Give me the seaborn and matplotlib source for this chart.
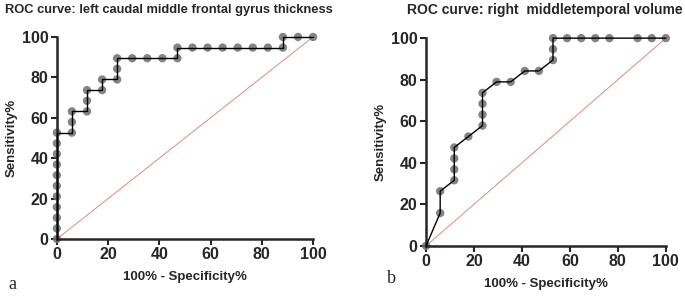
import numpy as np
import pandas as pd
import matplotlib.pyplot as plt
import seaborn as sns

# ROC data (percent)
left_fpr = [0, 0, 0, 0, 0, 0, 0, 0, 0, 0, 0,
            5.88, 5.88, 5.88, 11.76, 11.76, 11.76, 17.65, 17.65,
            23.53, 23.53, 23.53, 29.41, 35.29, 41.18, 47.06, 47.06,
            52.94, 58.82, 64.71, 70.59, 76.47, 82.35, 88.24, 88.24, 94.12, 100]
left_tpr = [0, 5.26, 10.53, 15.79, 21.05, 26.32, 31.58, 36.84, 42.11, 47.37, 52.63,
            52.63, 57.89, 63.16, 63.16, 68.42, 73.68, 73.68, 78.95,
            78.95, 84.21, 89.47, 89.47, 89.47, 89.47, 89.47, 94.74,
            94.74, 94.74, 94.74, 94.74, 94.74, 94.74, 94.74, 100, 100, 100]

right_fpr = [0, 5.88, 5.88, 11.76, 11.76, 11.76, 11.76, 17.65,
             23.53, 23.53, 23.53, 23.53, 29.41, 35.29, 41.18, 47.06,
             52.94, 52.94, 52.94, 58.82, 64.71, 70.59, 76.47, 88.24, 94.12, 100]
right_tpr = [0, 15.79, 26.32, 31.58, 36.84, 42.11, 47.37, 52.63,
             57.89, 63.16, 68.42, 73.68, 78.95, 78.95, 84.21, 84.21,
             89.47, 94.74, 100, 100, 100, 100, 100, 100, 100, 100]

titles = ["ROC curve: left caudal middle frontal gyrus thickness",
          "ROC curve: right  middletemporal volume"]
panel_labels = ["a", "b"]
ticks = [0, 20, 40, 60, 80, 100]

sns.set_style("ticks")
plt.rcParams['font.family'] = ['Liberation Sans', 'DejaVu Sans']

fig = plt.figure(figsize=(6.85, 2.98), dpi=100)
axes = [fig.add_axes([0.083, 0.198, 0.374, 0.678]),
        fig.add_axes([0.622, 0.175, 0.350, 0.697])]

data = [(left_fpr, left_tpr), (right_fpr, right_tpr)]
for ax, (fpr, tpr), title in zip(axes, data, titles):
    df = pd.DataFrame({'fpr': fpr, 'tpr': tpr})
    ax.plot([0, 100], [0, 100], color='#d9898a', lw=0.7, zorder=1)
    sns.scatterplot(data=df, x='fpr', y='tpr', ax=ax, s=36, color='#6e6e6e',
                    alpha=0.85, edgecolor='none', zorder=2, clip_on=False)
    sns.lineplot(data=df, x='fpr', y='tpr', ax=ax, sort=False, estimator=None,
                 color='black', lw=1.0, zorder=3, clip_on=False)
    ax.set_xlim(0, 100)
    ax.set_ylim(0, 100)
    ax.set_xticks(ticks)
    ax.set_yticks(ticks)
    for lab in ax.get_xticklabels() + ax.get_yticklabels():
        lab.set_fontweight('bold')
        lab.set_fontsize(11.5)
    ax.tick_params(width=1.5, length=4, pad=2)
    for s in ['left', 'bottom']:
        ax.spines[s].set_linewidth(1.8)
    sns.despine(ax=ax)
    ax.set_xlabel('100% - Specificity%', fontweight='bold', fontsize=9.5, labelpad=6)
    ax.set_ylabel('Sensitivity%', fontweight='bold', fontsize=9.5, labelpad=3)

fig.text(0.246, 0.965, titles[0], ha='center', va='center', fontweight='bold', fontsize=9.3)
fig.text(0.796, 0.965, titles[1], ha='center', va='center', fontweight='bold', fontsize=10)
fig.text(0.012, 0.03, panel_labels[0], fontsize=13, family='Liberation Serif')
fig.text(0.565, 0.05, panel_labels[1], fontsize=13, family='Liberation Serif')

fig.savefig('out.png', dpi=100, facecolor='white')
